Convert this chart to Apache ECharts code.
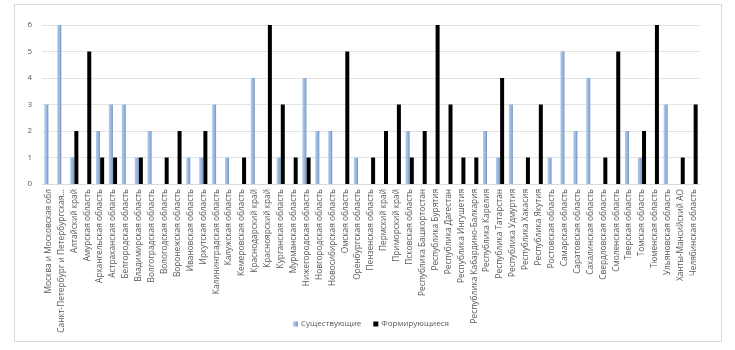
<!DOCTYPE html>
<html>
<head>
<meta charset="utf-8">
<script src="https://cdn.jsdelivr.net/npm/echarts@6/dist/echarts.min.js"></script>
<style>
    html, body { margin: 0; padding: 0; background: #fff; }
    .frame {
        position: absolute;
        left: 14px; top: 4px;
        width: 706px; height: 336px;
        border: 1px solid #d9d9d9;
    }
    #chart { position: absolute; left: 0; top: 0; width: 735px; height: 350px; }
</style>
</head>
<body>
<div class="frame"></div>
<div id="chart"></div>
<script>
// регионы
var regions = [
    'Москва и Московская обл', 'Санкт-Петербург и Петербургская...', 'Алтайский край',
    'Амурская область', 'Архангельская область', 'Астраханская область',
    'Белгородская область', 'Владимирская область', 'Волгоградская область',
    'Вологодская область', 'Воронежская область', 'Ивановская область',
    'Иркутская область', 'Калининградская область', 'Калужская область',
    'Кемеровская область', 'Краснодарский край', 'Красноярский край',
    'Курганская область', 'Мурманская область', 'Нижегородская область',
    'Новгородская область', 'Новосибирская область', 'Омская область',
    'Оренбургская область', 'Пензенская область', 'Пермский край',
    'Приморский край', 'Псковская область', 'Республика Башкортостан',
    'Республика Бурятия', 'Республика Дагестан', 'Республика Ингушетия',
    'Республика Кабардино-Балкария', 'Республика Карелия', 'Республика Татарстан',
    'Республика Удмуртия', 'Республика Хакасия', 'Республика Якутия',
    'Ростовская область', 'Самарская область', 'Саратовская область',
    'Сахалинская область', 'Свердловская область', 'Смоленская область',
    'Тверская область', 'Томская область', 'Тюменская область',
    'Ульяновская область', 'Ханты-Мансийский АО', 'Челябинская область'
];

var existing = [
    3, 6, 1, 0, 2, 3, 3, 1, 2, 0, 0, 1, 1, 3, 1, 0, 4,
    0, 1, 0, 4, 2, 2, 0, 1, 0, 0, 0, 2, 0, 0, 0, 0, 0,
    2, 1, 3, 0, 0, 1, 5, 2, 4, 0, 0, 2, 1, 0, 3, 0, 0
];

var forming = [
    0, 0, 2, 5, 1, 1, 0, 1, 0, 1, 2, 0, 2, 0, 0, 1, 0,
    6, 3, 1, 1, 0, 0, 5, 0, 1, 2, 3, 1, 2, 6, 3, 1, 1,
    0, 4, 0, 1, 3, 0, 0, 0, 0, 1, 5, 0, 2, 6, 0, 1, 3
];

var yTicks = [0, 1, 2, 3, 4, 5, 6];

var chart = echarts.init(document.getElementById('chart'));

chart.setOption({
    animation: false,
    textStyle: { fontFamily: 'Open Sans, Liberation Sans, sans-serif' },
    grid: {
        left: 42,
        right: 35,
        top: 25,
        bottom: 166
    },
    legend: {
        bottom: 17,
        left: 288,
        itemWidth: 5,
        itemHeight: 5,
        itemGap: 12,
        icon: 'rect',
        textStyle: { fontSize: 8, color: '#595959', padding: [0, 0, 0, -2] },
        data: ['Существующие', 'Формирующиеся']
    },
    xAxis: {
        type: 'category',
        data: regions,
        axisLine: { lineStyle: { color: '#d9d9d9' } },
        axisTick: { show: false },
        axisLabel: {
            rotate: 90,
            interval: 0,
            fontSize: 8.3,
            color: '#595959',
            margin: 5
        }
    },
    yAxis: {
        type: 'value',
        min: yTicks[0],
        max: yTicks[yTicks.length - 1],
        interval: 1,
        axisLine: { show: false },
        axisTick: { show: false },
        axisLabel: { fontSize: 8, color: '#595959', margin: 10 },
        splitLine: { lineStyle: { color: '#e3e3e3' } }
    },
    series: [{
        name: 'Существующие',
        type: 'bar',
        data: existing,
        barWidth: 4,
        barGap: '5%',
        itemStyle: {
            color: new echarts.graphic.LinearGradient(0, 0, 1, 0, [
                { offset: 0, color: '#b3cdea' },
                { offset: 0.6, color: '#95b6df' },
                { offset: 1, color: '#6d8fb8' }
            ])
        }
    }, {
        name: 'Формирующиеся',
        type: 'bar',
        data: forming,
        barWidth: 4,
        itemStyle: { color: '#000' }
    }]
});
</script>
</body>
</html>
